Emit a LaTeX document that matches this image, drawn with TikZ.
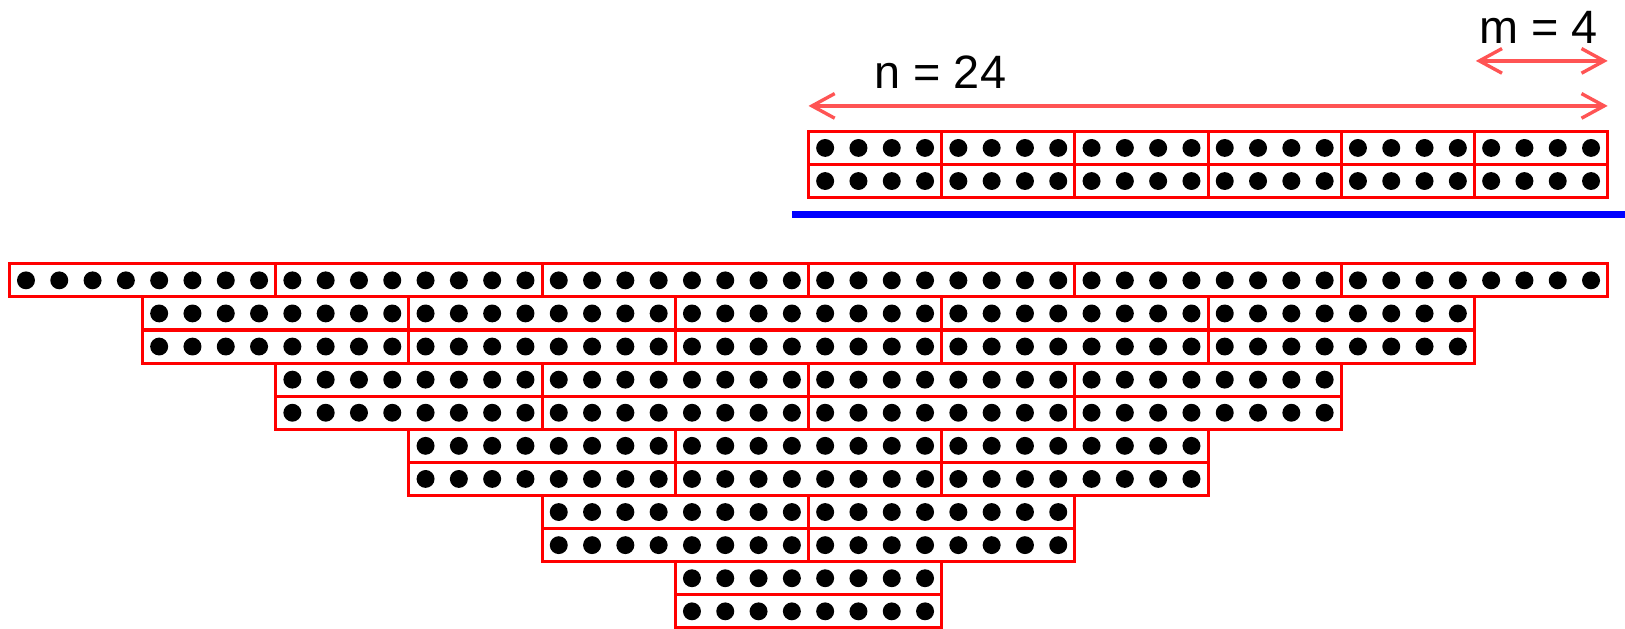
\documentclass[tikz,border=0pt]{standalone}
\usepackage{fontspec}
\setmainfont{Liberation Sans}
\usepackage{xcolor}
\usepackage{tikz}
\usetikzlibrary{arrows.meta,positioning}
\definecolor{BoxRed}{HTML}{FF0000}
\definecolor{SpanRed}{HTML}{FF5454}
\definecolor{FloorBlue}{HTML}{0000FF}

\begin{document}
\begin{tikzpicture}[
  x=1cm,y=0.994cm,
  every node/.style={font=\fontsize{40}{48}\selectfont},
  block/.style={draw=BoxRed,line width=2.6pt,inner sep=0pt,outer sep=0pt,
    minimum height=0.994cm,minimum width=#1cm,anchor=south west},
  bead/.style={fill=black},
  span/.style={{Straight Barb[length=6.8mm,width=7.4mm]}-{Straight Barb[length=6.8mm,width=7.4mm]},
    line width=2.9pt,color=SpanRed},
  floor/.style={line width=5.4pt,color=FloorBlue}
]
\useasboundingbox (-0.28,-0.03) rectangle (48.52,18.97);

% top pile: two rows of six blocks of width m
\foreach \r in {0,1}{
  \foreach \j in {0,...,5}{
    \node[block=4] (top\r\j) at ({24+4*\j},{13+\r}) {};
    \foreach \i in {0,...,3}
      \fill[bead] ({24+4*\j+\i+0.5},{13.5+\r}) circle (0.27);
  }
}

% separating floor
\draw[floor] (23.5,12.49) -- (48.52,12.49);

% bottom pyramid, first row
\foreach \j in {0,...,5}{
  \node[block=8] (row0\j) at ({8*\j},10) {};
  \foreach \i in {0,...,7}
    \fill[bead] ({8*\j+\i+0.5},10.5) circle (0.27);
}

% bottom pyramid, paired rows shrinking by one block
\foreach \k in {1,...,5}{
  \pgfmathtruncatemacro\last{5-\k}
  \foreach \r in {0,1}{
    \foreach \j in {0,...,\last}{
      \node[block=8] (row\k\r\j) at ({4*\k+8*\j},{10-2*\k+\r}) {};
      \foreach \i in {0,...,7}
        \fill[bead] ({4*\k+8*\j+\i+0.5},{10.5-2*\k+\r}) circle (0.27);
    }
  }
}

% dimension arrows
\coordinate (nL) at (24,15.77);
\coordinate (nR) at (48,15.77);
\coordinate (mL) at (44.04,17.13);
\coordinate (mR) at (48,17.13);
\draw[span] (nL) -- (nR);
\draw[span] (mL) -- (mR);

\node[anchor=base] (nlabel) at (27.96,16.31) {n = 24};
\node[anchor=base] (mlabel) at (45.92,17.67) {m = 4};
\end{tikzpicture}
\end{document}
